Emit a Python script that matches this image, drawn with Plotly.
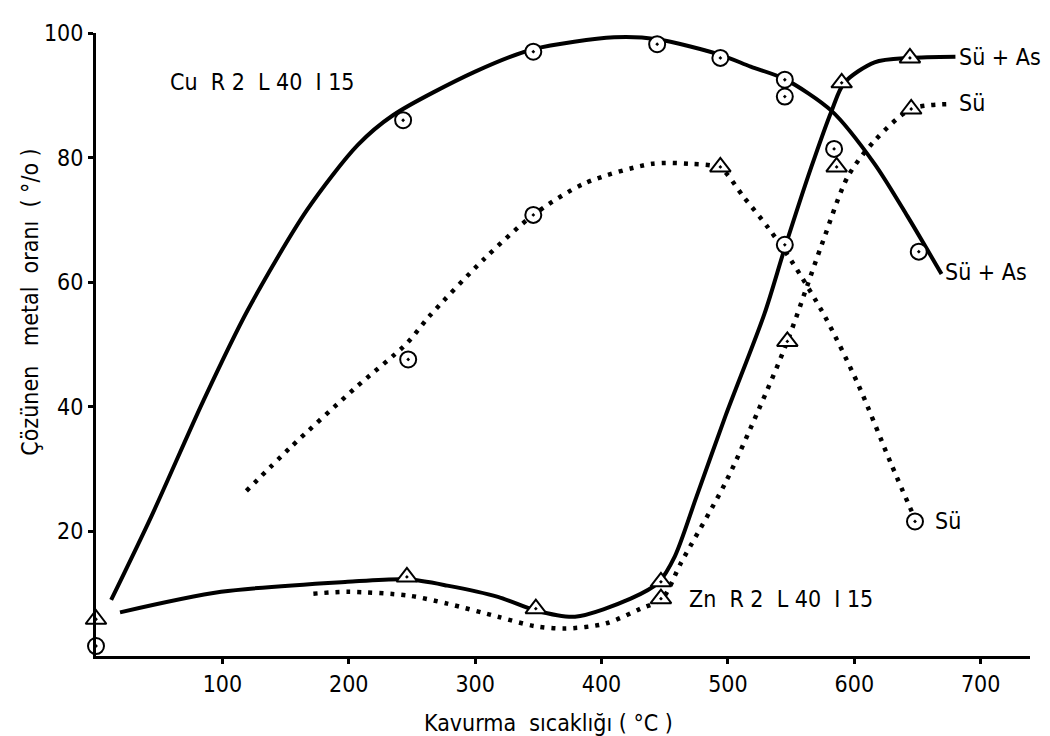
import plotly.graph_objects as go

# ---------------- data ----------------
# Temperatures (°C) and dissolved-metal ratios (%)

# Cu, Sü + As (solid curve)
cu_sa_curve_T = [12, 44, 85, 120, 167, 207, 235, 300, 346, 410, 444, 494, 518, 545, 582, 616, 642, 669]
cu_sa_curve_V = [9.0, 22.5, 41.0, 55.5, 71.6, 82.0, 86.8, 93.8, 97.4, 99.3, 99.0, 96.5, 94.6, 92.6, 87.5, 79.0, 70.6, 61.3]
cu_sa_pts_T = [0, 243, 346, 444, 494, 545, 545, 651]
cu_sa_pts_V = [1.6, 86.0, 97.0, 98.2, 96.0, 92.5, 89.8, 64.9]

# Cu, Sü (dotted curve)
cu_su_curve_T = [119, 154, 205, 246, 264, 307, 346, 387, 440, 470, 494, 512, 532, 550, 577, 603, 629, 648]
cu_su_curve_V = [26.5, 33.5, 43.0, 50.2, 54.6, 63.7, 70.8, 75.9, 79.0, 79.0, 78.3, 73.8, 68.7, 63.5, 54.4, 43.6, 30.9, 22.0]
cu_su_pts_T = [247, 346, 545, 584, 648]
cu_su_pts_V = [47.6, 70.8, 66.0, 81.4, 21.6]
cu_su_tri_T = [494]
cu_su_tri_V = [78.5]

# Zn, Sü + As (solid curve)
zn_sa_curve_T = [19, 99, 199, 246, 278, 318, 348, 379, 423, 445, 458, 475, 498, 529, 545, 566, 582, 592, 616, 644, 680]
zn_sa_curve_V = [7.0, 10.3, 11.9, 12.3, 11.3, 9.5, 7.3, 6.3, 9.2, 11.8, 16.0, 25.5, 38.5, 55.0, 65.5, 78.5, 87.5, 92.0, 95.3, 96.0, 96.2]
zn_sa_pts_T = [0, 246, 348, 447, 590, 644]
zn_sa_pts_V = [5.9, 12.7, 7.6, 11.9, 92.0, 96.0]

# Zn, Sü (dotted curve)
zn_su_curve_T = [172, 199, 247, 278, 318, 347, 371, 403, 431, 448, 463, 498, 524, 547, 574, 595, 616, 645, 676]
zn_su_curve_V = [10.0, 10.3, 9.7, 8.4, 6.3, 4.8, 4.4, 5.2, 7.6, 9.2, 15.0, 27.8, 39.4, 50.5, 65.9, 77.0, 82.7, 87.8, 88.6]
zn_su_pts_T = [447, 547, 586, 645]
zn_su_pts_V = [9.2, 50.5, 78.5, 87.8]

x_ticks = [100, 200, 300, 400, 500, 600, 700]
y_ticks = [20, 40, 60, 80, 100]

x_title = "Kavurma  sıcaklığı ( °C )"
y_title = "Çözünen   metal  oranı  ( °/o )"

# ---------------- figure ----------------
FONT = "Liberation Sans Narrow, DejaVu Sans Condensed, Liberation Sans, sans-serif"
DOTS = "4px,7px"

fig = go.Figure()


def add_curve(T, V, dotted):
    fig.add_trace(go.Scatter(
        x=T, y=V, mode="lines", hoverinfo="skip", showlegend=False,
        line=dict(color="black", width=4 if not dotted else 4.5,
                  shape="spline", smoothing=0.8,
                  dash=DOTS if dotted else "solid"),
    ))


def add_points(T, V, symbol, size):
    fig.add_trace(go.Scatter(
        x=T, y=V, mode="markers", showlegend=False, cliponaxis=False,
        marker=dict(symbol=symbol, size=size, color="white",
                    line=dict(color="black", width=2)),
    ))


add_curve(cu_sa_curve_T, cu_sa_curve_V, False)
add_curve(cu_su_curve_T, cu_su_curve_V, True)
add_curve(zn_sa_curve_T, zn_sa_curve_V, False)
add_curve(zn_su_curve_T, zn_su_curve_V, True)

add_points(cu_sa_pts_T, cu_sa_pts_V, "circle-dot", 16)
add_points(cu_su_pts_T, cu_su_pts_V, "circle-dot", 16)
add_points(cu_su_tri_T, cu_su_tri_V, "triangle-up-dot", 18)
add_points(zn_sa_pts_T, zn_sa_pts_V, "triangle-up-dot", 18)
add_points(zn_su_pts_T, zn_su_pts_V, "triangle-up-dot", 18)

labels = [
    ("Cu  R 2  L 40  I 15", 57, 92.2),
    ("Zn  R 2  L 40  I 15", 468, 9.2),
    ("Sü + As", 681, 96.2),
    ("Sü", 681, 88.7),
    ("Sü + As", 670, 61.6),
    ("Sü", 662, 21.6),
]
for txt, lx, ly in labels:
    fig.add_annotation(x=lx, y=ly, xref="x", yref="y", text=txt, showarrow=False,
                       xanchor="left", yanchor="middle",
                       font=dict(family=FONT, size=23, color="black"))

fig.add_annotation(x=0.484, y=-0.108, xref="paper", yref="paper", text=x_title,
                   showarrow=False, xanchor="center", yanchor="middle",
                   font=dict(family=FONT, size=23, color="black"))
fig.add_annotation(x=-0.07, y=0.568, xref="paper", yref="paper", text=y_title,
                   showarrow=False, xanchor="center", yanchor="middle", textangle=-90,
                   font=dict(family=FONT, size=23, color="black"))

axis_common = dict(showline=True, linecolor="black", linewidth=3, showgrid=False,
                   zeroline=False, ticks="outside", ticklen=5, tickwidth=3,
                   tickcolor="black", tickfont=dict(family=FONT, size=23, color="black"))

fig.update_layout(
    width=1050, height=736,
    margin=dict(l=88, r=28, t=18, b=88),
    paper_bgcolor="white", plot_bgcolor="white",
    xaxis=dict(range=[0, 739], tickvals=x_ticks, **axis_common),
    yaxis=dict(range=[0, 100], tickvals=y_ticks, **axis_common),
    showlegend=False,
)

fig.write_html("out.html")
